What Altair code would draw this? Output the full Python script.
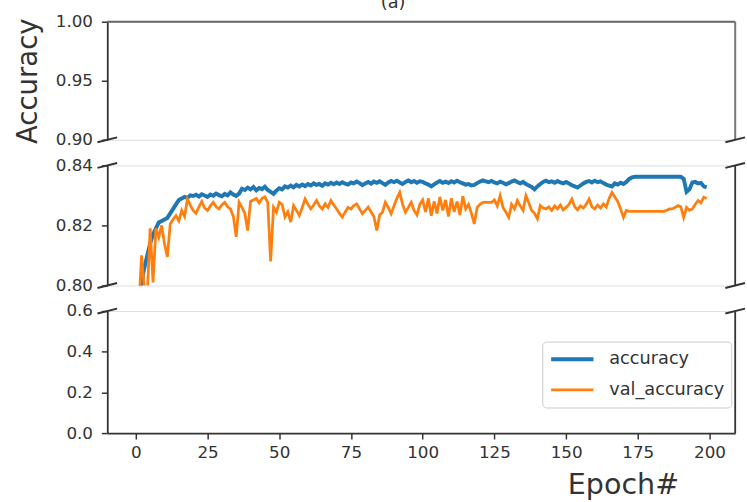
import altair as alt
import pandas as pd

# ---------------- data ----------------
epochs = list(range(200))

accuracy = [
    0.7800, 0.7950, 0.8010, 0.8060, 0.8100, 0.8140, 0.8170, 0.8190, 0.8210, 0.8215,
    0.8220, 0.8225, 0.8240, 0.8255, 0.8270, 0.8285, 0.8290, 0.8295, 0.8292, 0.8300,
    0.8298, 0.8302, 0.8296, 0.8304, 0.8300, 0.8295, 0.8303, 0.8299, 0.8306, 0.8301,
    0.8297, 0.8305, 0.8300, 0.8310, 0.8303, 0.8298, 0.8306, 0.8322, 0.8318, 0.8326,
    0.8320, 0.8328, 0.8317, 0.8325, 0.8321, 0.8329, 0.8318, 0.8312, 0.8305, 0.8316,
    0.8324, 0.8320, 0.8330, 0.8326, 0.8333, 0.8327, 0.8335, 0.8330, 0.8336, 0.8331,
    0.8338, 0.8333, 0.8340, 0.8335, 0.8338, 0.8332, 0.8340, 0.8336, 0.8342, 0.8337,
    0.8343, 0.8338, 0.8344, 0.8339, 0.8336, 0.8343, 0.8340, 0.8346, 0.8341, 0.8334,
    0.8340, 0.8345, 0.8339, 0.8346, 0.8342, 0.8347, 0.8341, 0.8335, 0.8343, 0.8348,
    0.8344, 0.8349, 0.8343, 0.8338, 0.8345, 0.8350, 0.8344, 0.8348, 0.8342, 0.8347,
    0.8345, 0.8340, 0.8336, 0.8330, 0.8337, 0.8343, 0.8348, 0.8342, 0.8346, 0.8341,
    0.8347, 0.8343, 0.8349, 0.8344, 0.8340, 0.8336, 0.8338, 0.8333, 0.8335, 0.8341,
    0.8346, 0.8350, 0.8347, 0.8344, 0.8348, 0.8343, 0.8340, 0.8346, 0.8342, 0.8337,
    0.8341, 0.8346, 0.8350, 0.8345, 0.8340, 0.8345, 0.8338, 0.8333, 0.8328, 0.8320,
    0.8330, 0.8338, 0.8345, 0.8349, 0.8344, 0.8347, 0.8342, 0.8348, 0.8343, 0.8340,
    0.8345, 0.8340, 0.8334, 0.8330, 0.8326, 0.8333, 0.8340, 0.8345, 0.8348, 0.8343,
    0.8349, 0.8344, 0.8347, 0.8341, 0.8336, 0.8333, 0.8330, 0.8340, 0.8336, 0.8342,
    0.8338, 0.8345, 0.8355, 0.8360, 0.8362, 0.8362, 0.8362, 0.8362, 0.8362, 0.8362,
    0.8362, 0.8362, 0.8362, 0.8362, 0.8362, 0.8362, 0.8362, 0.8362, 0.8362, 0.8362,
    0.8362, 0.8355, 0.8312, 0.8320, 0.8343, 0.8345, 0.8340, 0.8342, 0.8330, 0.8327,
]

val_accuracy = [
    0.7850, 0.7920, 0.8100, 0.7990, 0.7970, 0.8190, 0.8010, 0.8190, 0.8160, 0.8200,
    0.8140, 0.8095, 0.8205, 0.8220, 0.8232, 0.8215, 0.8250, 0.8230, 0.8288, 0.8267,
    0.8250, 0.8240, 0.8262, 0.8280, 0.8258, 0.8250, 0.8265, 0.8277, 0.8262, 0.8255,
    0.8268, 0.8277, 0.8262, 0.8255, 0.8230, 0.8162, 0.8277, 0.8260, 0.8240, 0.8183,
    0.8280, 0.8285, 0.8290, 0.8275, 0.8290, 0.8295, 0.8277, 0.8080, 0.8260, 0.8244,
    0.8277, 0.8270, 0.8228, 0.8245, 0.8211, 0.8266, 0.8250, 0.8233, 0.8260, 0.8288,
    0.8270, 0.8255, 0.8268, 0.8283, 0.8265, 0.8255, 0.8272, 0.8260, 0.8283, 0.8268,
    0.8255, 0.8240, 0.8228, 0.8245, 0.8260, 0.8255, 0.8266, 0.8272, 0.8255, 0.8239,
    0.8250, 0.8261, 0.8245, 0.8230, 0.8183, 0.8235, 0.8244, 0.8277, 0.8260, 0.8239,
    0.8265, 0.8290, 0.8310, 0.8270, 0.8244, 0.8260, 0.8277, 0.8250, 0.8235, 0.8270,
    0.8285, 0.8245, 0.8290, 0.8232, 0.8280, 0.8240, 0.8295, 0.8250, 0.8285, 0.8230,
    0.8290, 0.8245, 0.8280, 0.8235, 0.8297, 0.8255, 0.8270, 0.8240, 0.8205, 0.8260,
    0.8270, 0.8277, 0.8277, 0.8277, 0.8277, 0.8285, 0.8265, 0.8299, 0.8260, 0.8245,
    0.8227, 0.8270, 0.8255, 0.8283, 0.8265, 0.8250, 0.8299, 0.8275, 0.8250, 0.8240,
    0.8222, 0.8266, 0.8258, 0.8255, 0.8262, 0.8250, 0.8265, 0.8255, 0.8268, 0.8252,
    0.8260, 0.8270, 0.8288, 0.8262, 0.8252, 0.8265, 0.8258, 0.8270, 0.8288, 0.8262,
    0.8255, 0.8268, 0.8258, 0.8272, 0.8262, 0.8290, 0.8310, 0.8295, 0.8280, 0.8255,
    0.8227, 0.8250, 0.8247, 0.8247, 0.8247, 0.8247, 0.8247, 0.8247, 0.8247, 0.8247,
    0.8247, 0.8247, 0.8247, 0.8247, 0.8247, 0.8250, 0.8255, 0.8255, 0.8260, 0.8266,
    0.8262, 0.8227, 0.8260, 0.8250, 0.8255, 0.8270, 0.8283, 0.8275, 0.8294, 0.8290,
]

series_names = ["accuracy", "val_accuracy"]
series_colors = ["#1f77b4", "#ff7f0e"]
series_widths = [4.0, 2.8]

x_domain = [-9.95, 208.95]
x_ticks = [0, 25, 50, 75, 100, 125, 150, 175, 200]
top_domain = [0.90, 1.00]
top_ticks = [0.90, 0.95, 1.00]
mid_domain = [0.80, 0.84]
mid_ticks = [0.80, 0.82, 0.84]
bot_domain = [0.0, 0.6]
bot_ticks = [0.0, 0.2, 0.4, 0.6]

rows = []
for name, vals in zip(series_names, [accuracy, val_accuracy]):
    for e, v in zip(epochs, vals):
        rows.append({"epoch": e, "value": v, "series": name})
df = pd.DataFrame(rows)
one = pd.DataFrame({"k": [0]})

# ---------------- styling ----------------
W = 638
H_TOP, H_MID, H_BOT = 120, 122, 124
FONT = "DejaVu Sans"
INK = "#333333"
LBL = 17

x_scale = alt.Scale(domain=x_domain, nice=False, zero=False)

color = alt.Color(
    "series:N",
    scale=alt.Scale(domain=series_names, range=series_colors),
    legend=alt.Legend(
        title=None, orient="none", legendX=442, legendY=325,
        symbolType="stroke", symbolSize=1849, symbolStrokeWidth=4,
        labelFontSize=18, labelFont=FONT, labelColor=INK, labelOffset=14,
        rowPadding=9, clipHeight=22, padding=7, fillColor="white",
        strokeColor="#cccccc", cornerRadius=4,
    ),
)
swidth = alt.StrokeWidth(
    "series:N", scale=alt.Scale(domain=series_names, range=series_widths), legend=None
)


def y_axis(ticks, fmt, title=None):
    kw = dict(values=ticks, format=fmt, tickSize=6, tickWidth=1.5, tickColor=INK,
              domainColor=INK, domainWidth=1.8, labelFontSize=LBL, labelFont=FONT,
              labelColor=INK, labelPadding=9, grid=False)
    if title:
        kw.update(title=title, titleFontSize=28, titleFont=FONT, titleFontWeight="normal",
                  titleColor=INK, titleX=-72, titleBaseline="alphabetic", titleAngle=270)
    else:
        kw.update(title=None)
    return alt.Axis(**kw)


def brk(xpix, ypix):
    return alt.Chart(one).mark_rule(color=INK, strokeWidth=2).encode(
        x=alt.value(xpix - 10), x2=alt.value(xpix + 10),
        y=alt.value(ypix + 2.5), y2=alt.value(ypix - 2.5),
    )


def lines(domain, ticks, fmt, title=None, x_axis=None):
    return alt.Chart(df).mark_line(clip=True).encode(
        x=alt.X("epoch:Q", scale=x_scale, axis=x_axis),
        y=alt.Y("value:Q", scale=alt.Scale(domain=domain, nice=False, zero=False),
                axis=y_axis(ticks, fmt, title)),
        color=color,
        strokeWidth=swidth,
    )


# top panel (0.90 - 1.00)
top = alt.layer(
    lines(top_domain, top_ticks, ".2f", title="Accuracy"),
    alt.Chart(one).mark_rule(color="#666666", strokeWidth=2).encode(y=alt.datum(top_domain[1])),
    alt.Chart(one).mark_rule(color="#777777", strokeWidth=2).encode(x=alt.datum(x_domain[1])),
    brk(0, H_TOP), brk(W, H_TOP),
).properties(width=W, height=H_TOP)

# middle panel (0.80 - 0.84)
mid = alt.layer(
    lines(mid_domain, mid_ticks, ".2f"),
    alt.Chart(one).mark_rule(color=INK, strokeWidth=1.8).encode(x=alt.datum(x_domain[1])),
    brk(0, 0), brk(W, 0), brk(0, H_MID), brk(W, H_MID),
).properties(width=W, height=H_MID)

# bottom panel (0.0 - 0.6)
x_axis = alt.Axis(values=x_ticks, format="d", tickSize=6, tickWidth=1.5, tickColor=INK,
                  domainColor=INK, domainWidth=1.8, labelFontSize=LBL, labelFont=FONT,
                  labelColor=INK, labelPadding=6, grid=False,
                  title="Epoch#", titleFontSize=29, titleFont=FONT, titleFontWeight="normal",
                  titleColor=INK, titleX=524, titleY=61, titleBaseline="alphabetic",
                  titleAlign="center")
bot = alt.layer(
    lines(bot_domain, bot_ticks, ".1f", x_axis=x_axis),
    alt.Chart(one).mark_rule(color=INK, strokeWidth=1.8).encode(x=alt.datum(x_domain[1])),
    brk(0, 0), brk(W, 0),
).properties(width=W, height=H_BOT)

chart = alt.vconcat(top, mid, bot, spacing=26, bounds="flush").properties(
    title=alt.TitleParams("(a)", fontSize=18, font=FONT, fontWeight="normal", color=INK,
                          anchor="middle", dx=13, baseline="bottom", offset=-18),
    padding={"left": 14, "top": -10, "right": 0, "bottom": 0},
).configure_view(stroke="#dddddd", strokeWidth=1).configure(background="white")

chart.save("out.html", embed_options={"renderer": "svg", "actions": False})
